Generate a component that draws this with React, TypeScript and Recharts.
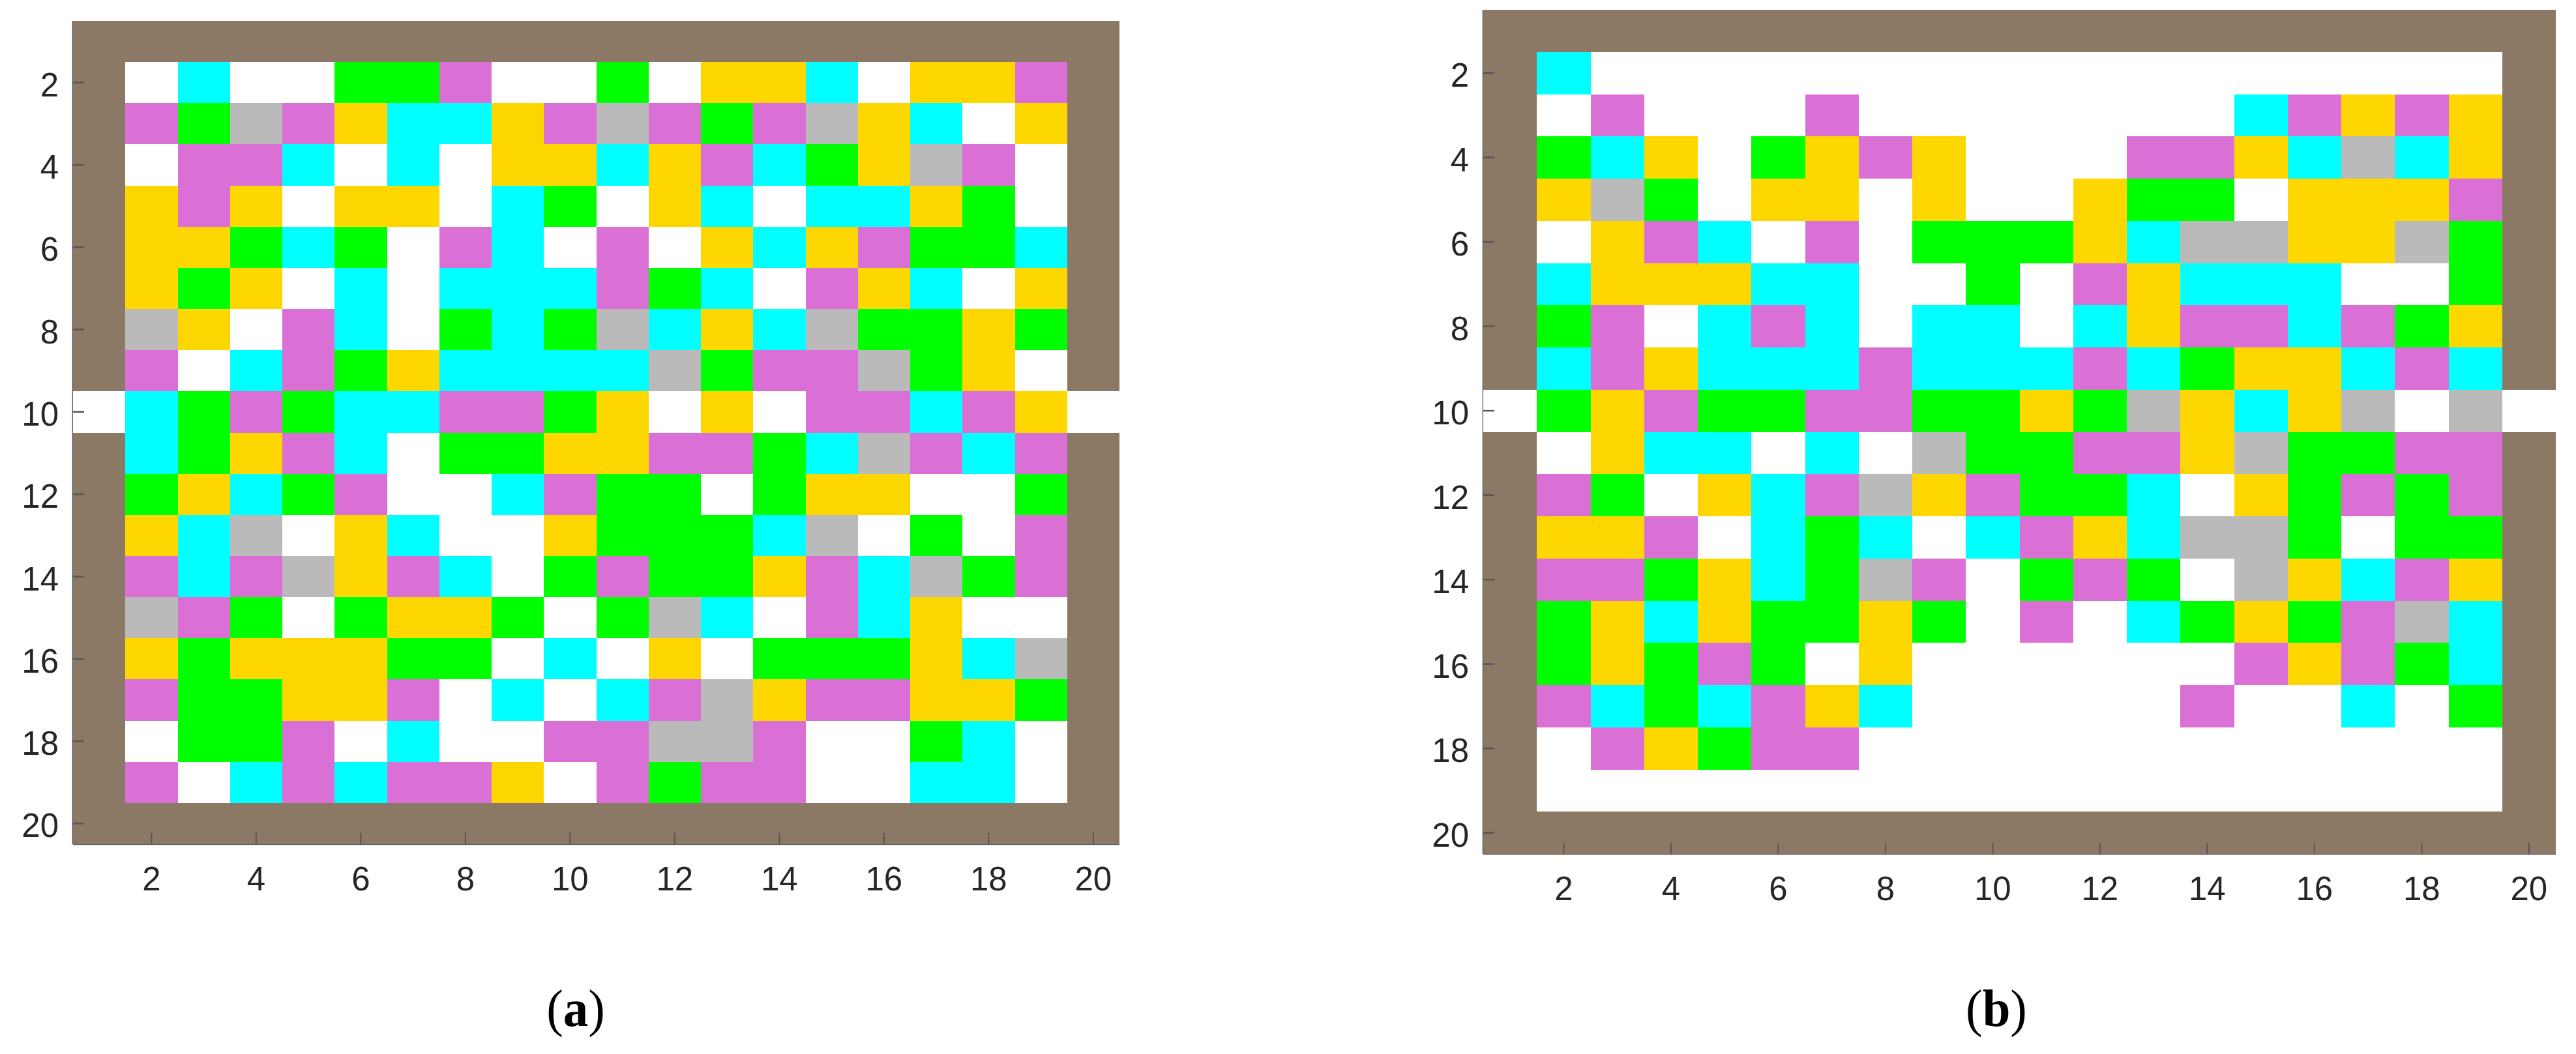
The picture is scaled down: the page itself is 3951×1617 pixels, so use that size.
import { Scatter, ScatterChart, XAxis, YAxis } from 'recharts';

// each string is one row of the map (row 1 at the top), one letter per column
const ROWS_A = [
  'BBBBBBBBBBBBBBBBBBBB',
  'BWCWWGGMWWGWYYCWYYMB',
  'BMGSMYCCYMSMGMSYCWYB',
  'BWMMCWCWYYCYMCGYSMWB',
  'BYMYWYYWCGWYCWCCYGWB',
  'BYYGCGWMCWMWYCYMGGCB',
  'BYGYWCWCCCMGCWMYCWYB',
  'BSYWMCWGCGSCYCSGGYGB',
  'BMWCMGYCCCCSGMMSGYWB',
  'WCGMGCCMMGYWYWMMCMYW',
  'BCGYMCWGGYYMMGCSMCMB',
  'BGYCGMWWCMGGWGYYWWGB',
  'BYCSWYCWWYGGGCSWGWMB',
  'BMCMSYMCWGMGGYMCSGMB',
  'BSMGWGYYGWGSCWMCYWWB',
  'BYGYYYGGWCWYWGGGYCSB',
  'BMGGYYMWCWCMSYMMYYGB',
  'BWGGMWCWWMMSSMWWGCWB',
  'BMWCMCMMYWMGMMWWCCWB',
  'BBBBBBBBBBBBBBBBBBBB',
];

const ROWS_B = [
  'BBBBBBBBBBBBBBBBBBBB',
  'BCWWWWWWWWWWWWWWWWWB',
  'BWMWWWMWWWWWWWCMYMYB',
  'BGCYWGYMYWWWMMYCSCYB',
  'BYSGWYYWYWWYGGWYYYMB',
  'BWYMCWMWGGGYCSSYYSGB',
  'BCYYYCCWWGWMYCCCWWGB',
  'BGMWCMCWCCWCYMMCMGYB',
  'BCMYCCCMCCCMCGYYCMCB',
  'WGYMGGMMGGYGSYCYSWSW',
  'BWYCCWCWSGGMMYSGGMMB',
  'BMGWYCMSYMGGCWYGMGMB',
  'BYYMWCGCWCMYCSSGWGGB',
  'BMMGYCGSMWGMGWSYCMYB',
  'BGYCYGGYGWMWCGYGMSCB',
  'BGYGMGWYWWWWWWMYMGCB',
  'BMCGCMYCWWWWWMWWCWGB',
  'BWMYGMMWWWWWWWWWWWWB',
  'BWWWWWWWWWWWWWWWWWWB',
  'BBBBBBBBBBBBBBBBBBBB',
];

const TICKS = [2, 4, 6, 8, 10, 12, 14, 16, 18, 20];

const COLORS: Record<string, string> = {
  B: '#8b7966',
  W: '#ffffff',
  C: '#00ffff',
  G: '#00ff00',
  M: '#da70d6',
  Y: '#ffd700',
  S: '#bababa',
};

const AXIS_COLOR = '#555555';
const LABEL_COLOR = '#262626';
const TICK_LEN = 17;
const FONT = '"Liberation Sans", Arial, sans-serif';

const PAD = { left: 112, right: 24, top: 14, bottom: 100 };

function toCells(rows: string[]) {
  return rows.flatMap((row, r) =>
    row.split('').map((code, c) => ({ x: c + 1, y: r + 1, code }))
  );
}

function BottomTick({ x, y, payload }: any) {
  return (
    <g>
      <line x1={x} x2={x} y1={y} y2={y - TICK_LEN} stroke={AXIS_COLOR} strokeWidth={2} />
      <text x={x} y={y + 71} textAnchor="middle" fontSize={51} fontFamily={FONT} fill={LABEL_COLOR}>
        {payload.value}
      </text>
    </g>
  );
}

function LeftTick({ x, y, payload }: any) {
  return (
    <g>
      <line x1={x} x2={x + TICK_LEN} y1={y} y2={y} stroke={AXIS_COLOR} strokeWidth={2.5} />
      <text x={x - 22} y={y + 21} textAnchor="end" fontSize={51} fontFamily={FONT} fill={LABEL_COLOR}>
        {payload.value}
      </text>
    </g>
  );
}

function TopTick({ x, y }: any) {
  return <line x1={x} x2={x} y1={y} y2={y + TICK_LEN} stroke={AXIS_COLOR} strokeWidth={2} />;
}

function RightTick({ x, y }: any) {
  return <line x1={x} x2={x - TICK_LEN} y1={y} y2={y} stroke={AXIS_COLOR} strokeWidth={2.5} />;
}

interface PanelProps {
  rows: string[];
  left: number;
  top: number;
  width: number;
  height: number;
}

function Panel({ rows, left, top, width, height }: PanelProps) {
  const cellW = width / 20;
  const cellH = height / 20;
  const axisProps = {
    type: 'number' as const,
    domain: [0.5, 20.5],
    ticks: TICKS,
    interval: 0 as const,
    allowDataOverflow: true,
    axisLine: { stroke: AXIS_COLOR, strokeWidth: 2.5 },
    tickLine: false,
    tickSize: 0,
    tickMargin: 0,
  };

  return (
    <div style={{ position: 'absolute', left: left - PAD.left, top: top - PAD.top }}>
      <ScatterChart
        width={width + PAD.left + PAD.right}
        height={height + PAD.top + PAD.bottom}
        margin={{ left: 0, right: PAD.right, top: PAD.top, bottom: 0 }}
      >
        <Scatter
          data={toCells(rows)}
          dataKey="y"
          isAnimationActive={false}
          shape={(props: any) => (
            <rect
              x={props.cx - cellW / 2}
              y={props.cy - cellH / 2}
              width={cellW}
              height={cellH}
              fill={COLORS[props.payload.code]}
              shapeRendering="crispEdges"
            />
          )}
        />
        <XAxis {...axisProps} dataKey="x" orientation="bottom" height={PAD.bottom} tick={<BottomTick />} />
        <YAxis {...axisProps} dataKey="y" reversed orientation="left" width={PAD.left} tick={<LeftTick />} />
        <XAxis {...axisProps} xAxisId="top" orientation="top" height={0} tick={<TopTick />} />
        <YAxis {...axisProps} yAxisId="right" reversed orientation="right" width={0} tick={<RightTick />} />
      </ScatterChart>
    </div>
  );
}

function Caption({ letter, x, y }: { letter: string; x: number; y: number }) {
  return (
    <div
      style={{
        position: 'absolute',
        left: x - 100,
        top: y,
        width: 200,
        textAlign: 'center',
        fontFamily: '"Liberation Serif", "Times New Roman", serif',
        fontSize: 80,
        lineHeight: '100px',
        color: '#000',
        transform: 'scaleX(0.96)',
      }}
    >
      (<b>{letter}</b>)
    </div>
  );
}

export default function App() {
  return (
    <div style={{ position: 'absolute', left: 0, top: 0, width: 3951, height: 1617, background: '#fff' }}>
      <Panel rows={ROWS_A} left={112} top={32} width={1605} height={1263} />
      <Panel rows={ROWS_B} left={2275} top={15} width={1645} height={1295} />
      <Caption letter="a" x={883} y={1497} />
      <Caption letter="b" x={3062} y={1497} />
    </div>
  );
}
